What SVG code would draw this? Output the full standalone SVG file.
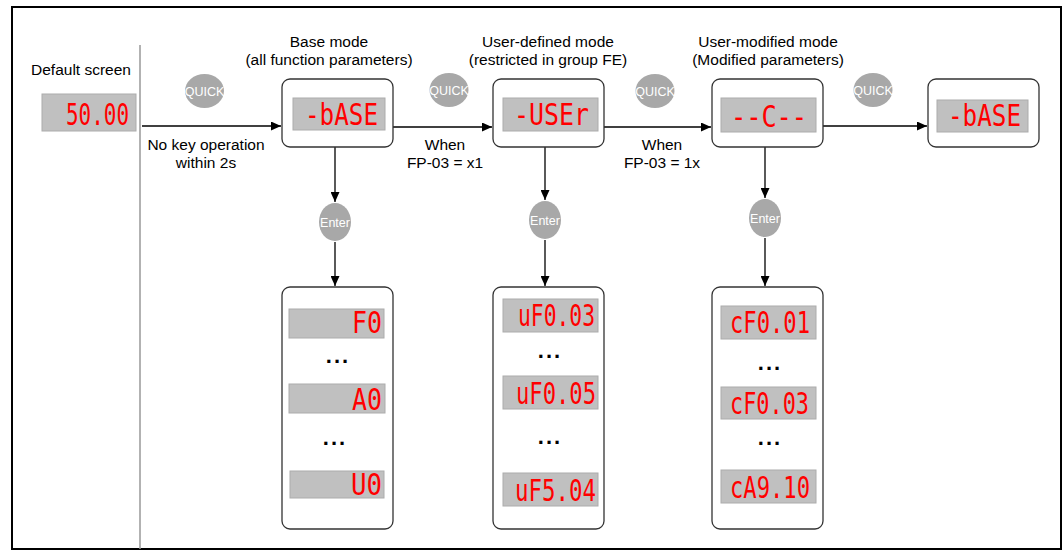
<svg xmlns="http://www.w3.org/2000/svg" width="1063" height="551" viewBox="0 0 1063 551">
<style>
.lbl{font-family:"Liberation Sans",Arial,sans-serif;font-size:15.5px;fill:#000;text-anchor:middle}
.box{fill:#fff;stroke:#333;stroke-width:1.3}
.disp{fill:#c0c0c0;stroke:#acacac;stroke-width:1}
.seg{font-family:"DejaVu Sans Mono",monospace;font-size:30px;fill:#ff0000;text-anchor:end}
.key{fill:#a8a8a8}
.keyt{font-family:"Liberation Sans",Arial,sans-serif;fill:#fff;text-anchor:middle}
.dots{font-family:"Liberation Sans",Arial,sans-serif;font-size:22px;font-weight:bold;fill:#000;text-anchor:middle;letter-spacing:2px}
.conn{stroke:#000;stroke-width:1.3;fill:none;marker-end:url(#ah)}
</style>
<defs>
<marker id="ah" markerUnits="userSpaceOnUse" markerWidth="11" markerHeight="9" refX="10" refY="4.5" orient="auto">
<path d="M0,0 L10,4.5 L0,9 z" fill="#000"/>
</marker>
</defs>
<rect x="0" y="0" width="1063" height="551" fill="#fff"/>
<rect x="12" y="7" width="1049" height="542" fill="none" stroke="#000" stroke-width="2"/>
<line x1="140" y1="45" x2="140" y2="549" stroke="#999" stroke-width="1.5"/>

<g id="default-screen">
<text class="lbl" x="81" y="75">Default screen</text>
<rect class="disp" x="42" y="94" width="94" height="37"/>
<text class="seg" x="129" y="125" textLength="63" lengthAdjust="spacingAndGlyphs">50.00</text>
</g>

<g id="connectors">
<line class="conn" x1="142" y1="126" x2="281" y2="126"/>
<line class="conn" x1="393" y1="127" x2="492" y2="127"/>
<line class="conn" x1="604" y1="127" x2="711" y2="127"/>
<line class="conn" x1="823" y1="126" x2="927" y2="126"/>
<line class="conn" x1="335" y1="147" x2="335" y2="202"/>
<line class="conn" x1="335" y1="242" x2="335" y2="286"/>
<line class="conn" x1="545" y1="147" x2="545" y2="200"/>
<line class="conn" x1="545" y1="240" x2="545" y2="286"/>
<line class="conn" x1="765" y1="147" x2="765" y2="198"/>
<line class="conn" x1="765" y1="238" x2="765" y2="286"/>
</g>

<g id="label-nokey">
<text class="lbl" x="206" y="150">No key operation</text>
<text class="lbl" x="206" y="168">within 2s</text>
</g>
<g id="label-x1">
<text class="lbl" x="445" y="150">When</text>
<text class="lbl" x="445" y="168">FP-03 = x1</text>
</g>
<g id="label-1x">
<text class="lbl" x="662" y="150">When</text>
<text class="lbl" x="662" y="168">FP-03 = 1x</text>
</g>

<g id="quick1"><ellipse class="key" cx="204.5" cy="91" rx="19.5" ry="17"/><text class="keyt" x="204.5" y="95.5" font-size="12.5">QUICK</text></g>
<g id="quick2"><ellipse class="key" cx="449" cy="90" rx="19.5" ry="17"/><text class="keyt" x="449" y="94.5" font-size="12.5">QUICK</text></g>
<g id="quick3"><ellipse class="key" cx="655" cy="91" rx="19.5" ry="17"/><text class="keyt" x="655" y="95.5" font-size="12.5">QUICK</text></g>
<g id="quick4"><ellipse class="key" cx="873" cy="90" rx="19.5" ry="17"/><text class="keyt" x="873" y="94.5" font-size="12.5">QUICK</text></g>

<g id="base-mode">
<text class="lbl" x="329" y="47">Base mode</text>
<text class="lbl" x="329" y="65">(all function parameters)</text>
<rect class="box" x="282" y="79" width="111" height="68" rx="8"/>
<rect class="disp" x="293" y="98" width="92" height="32"/>
<text class="seg" x="378" y="125" textLength="73" lengthAdjust="spacingAndGlyphs">-bASE</text>
</g>

<g id="user-defined-mode">
<text class="lbl" x="548" y="47">User-defined mode</text>
<text class="lbl" x="548" y="65">(restricted in group FE)</text>
<rect class="box" x="493" y="79" width="111" height="68" rx="8"/>
<rect class="disp" x="503" y="98" width="95" height="33"/>
<text class="seg" x="589" y="125" textLength="75" lengthAdjust="spacingAndGlyphs">-USEr</text>
</g>

<g id="user-modified-mode">
<text class="lbl" x="768" y="47">User-modified mode</text>
<text class="lbl" x="768" y="65">(Modified parameters)</text>
<rect class="box" x="712" y="79" width="111" height="68" rx="8"/>
<rect class="disp" x="721" y="98" width="95" height="34"/>
<text class="seg" x="807" y="127" textLength="76" lengthAdjust="spacingAndGlyphs">--C--</text>
</g>

<g id="base-mode-return">
<rect class="box" x="928" y="79" width="111" height="68" rx="8"/>
<rect class="disp" x="937" y="100" width="91" height="32"/>
<text class="seg" x="1021" y="126" textLength="73" lengthAdjust="spacingAndGlyphs">-bASE</text>
</g>

<g id="enter1"><ellipse class="key" cx="335" cy="222" rx="16" ry="19"/><text class="keyt" x="335" y="226.5" font-size="12.5">Enter</text></g>
<g id="enter2"><ellipse class="key" cx="545" cy="220" rx="16" ry="19"/><text class="keyt" x="545" y="224.5" font-size="12.5">Enter</text></g>
<g id="enter3"><ellipse class="key" cx="765" cy="218" rx="16" ry="19"/><text class="keyt" x="765" y="222.5" font-size="12.5">Enter</text></g>

<g id="base-list">
<rect class="box" x="282" y="287" width="111" height="242" rx="8"/>
<rect class="disp" x="289" y="309" width="95" height="29"/>
<text class="seg" x="382" y="333" textLength="30" lengthAdjust="spacingAndGlyphs">F0</text>
<text class="dots" x="338" y="363">...</text>
<rect class="disp" x="289" y="384" width="96" height="29"/>
<text class="seg" x="382" y="410" textLength="30" lengthAdjust="spacingAndGlyphs">A0</text>
<text class="dots" x="335" y="445">...</text>
<rect class="disp" x="290" y="471" width="94" height="27"/>
<text class="seg" x="382" y="495" textLength="31" lengthAdjust="spacingAndGlyphs">U0</text>
</g>

<g id="user-list">
<rect class="box" x="493" y="287" width="111" height="242" rx="8"/>
<rect class="disp" x="503" y="299" width="95" height="33"/>
<text class="seg" x="595" y="326" textLength="77" lengthAdjust="spacingAndGlyphs">uF0.03</text>
<text class="dots" x="550" y="358">...</text>
<rect class="disp" x="503" y="376" width="95" height="33"/>
<text class="seg" x="596" y="404" textLength="80" lengthAdjust="spacingAndGlyphs">uF0.05</text>
<text class="dots" x="550" y="444">...</text>
<rect class="disp" x="503" y="473" width="95" height="33"/>
<text class="seg" x="596" y="501" textLength="81" lengthAdjust="spacingAndGlyphs">uF5.04</text>
</g>

<g id="modified-list">
<rect class="box" x="712" y="287" width="111" height="242" rx="8"/>
<rect class="disp" x="721" y="306" width="95" height="33"/>
<text class="seg" x="810" y="333" textLength="80" lengthAdjust="spacingAndGlyphs">cF0.01</text>
<text class="dots" x="770" y="370">...</text>
<rect class="disp" x="721" y="387" width="95" height="32"/>
<text class="seg" x="809" y="414" textLength="79" lengthAdjust="spacingAndGlyphs">cF0.03</text>
<text class="dots" x="770" y="445">...</text>
<rect class="disp" x="721" y="470" width="95" height="33"/>
<text class="seg" x="810" y="498" textLength="80" lengthAdjust="spacingAndGlyphs">cA9.10</text>
</g>
</svg>
